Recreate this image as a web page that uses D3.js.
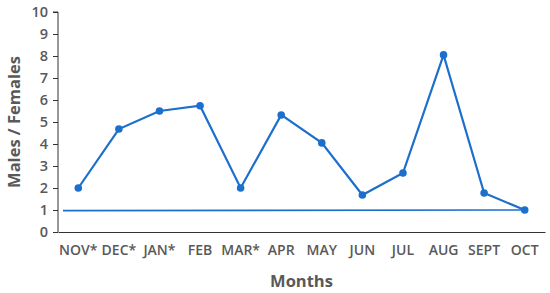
<!DOCTYPE html>
<html>
<head>
<meta charset="utf-8">
<script src="https://cdn.jsdelivr.net/npm/d3@7"></script>
<style>
body{margin:0;background:#fff;}
text{font-family:"Open Sans",sans-serif;fill:#595959;}
</style>
</head>
<body>
<svg id="chart" width="550" height="293"></svg>
<script>
var months=["NOV*","DEC*","JAN*","FEB","MAR*","APR","MAY","JUN","JUL","AUG","SEPT","OCT"];
var ratio=[2.0,4.68,5.5,5.74,2.0,5.32,4.05,1.68,2.68,8.05,1.77,1.0];
var yTicks=[0,1,2,3,4,5,6,7,8,9,10];
var parity=[0.97,1.0]; // 1:1 line, start / end value

var svg=d3.select("#chart");
var mLeft=58,mRight=545,mTop=12,mBottom=232;
var blue="#1c6fcc";

var x=d3.scaleBand().domain(months).range([mLeft,mRight]);
var y=d3.scaleLinear().domain([0,10]).range([mBottom,mTop]);
var cx=function(m){return x(m)+x.bandwidth()/2;};

// y axis
var ya=svg.append("g").attr("transform","translate("+mLeft+",0)")
	.call(d3.axisLeft(y).tickValues(yTicks).tickSize(5).tickPadding(5));
ya.select(".domain").attr("stroke","#333").attr("d","M-5,"+mTop+"H0V"+mBottom);
ya.selectAll(".tick line").attr("stroke","#333");
ya.selectAll("text").style("font-size","14.5px").style("font-weight","600").attr("fill","#595959");

// x axis (no ticks)
var xa=svg.append("g").attr("transform","translate(0,"+mBottom+")")
	.call(d3.axisBottom(x).tickSize(0).tickPadding(13));
xa.select(".domain").attr("stroke","#333");
xa.selectAll("text").style("font-size","14px").style("font-weight","600").attr("fill","#595959");

// 1:1 reference line
svg.append("line")
	.attr("x1",mLeft+5).attr("x2",cx(months[months.length-1]))
	.attr("y1",y(parity[0])).attr("y2",y(parity[1]))
	.attr("stroke",blue).attr("stroke-width",1.6);

// series
var line=d3.line().x(function(d,i){return cx(months[i]);}).y(function(d){return y(d);});
svg.append("path").datum(ratio).attr("d",line)
	.attr("fill","none").attr("stroke",blue).attr("stroke-width",2.2);
svg.selectAll(".pt").data(ratio).enter().append("circle")
	.attr("cx",function(d,i){return cx(months[i]);})
	.attr("cy",function(d){return y(d);})
	.attr("r",3.8).attr("fill",blue);

// titles
svg.append("text").attr("x",(mLeft+mRight)/2).attr("y",287).attr("text-anchor","middle")
	.style("font-size","16.5px").style("font-weight","bold").text("Months");
svg.append("text").attr("transform","translate(20,"+((mTop+mBottom)/2)+") rotate(-90)")
	.attr("text-anchor","middle").style("font-size","16.5px").style("font-weight","bold").text("Males / Females");
</script>
</body>
</html>
